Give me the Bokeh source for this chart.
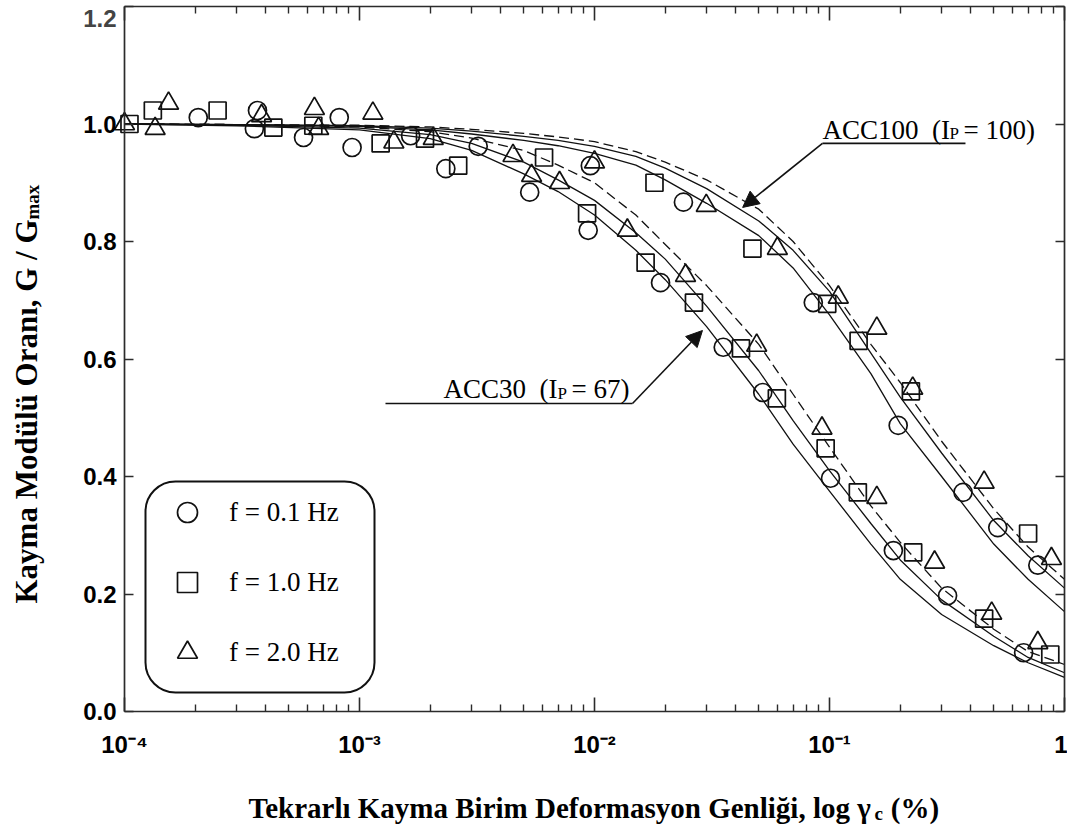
import math

from bokeh.embed import file_html
from bokeh.models import (Arrow, BoxAnnotation, CustomJSTickFormatter, FixedTicker,
                          Label, Legend, LegendItem, LinearAxis, LogAxis, NormalHead, Range1d)
from bokeh.plotting import figure
from bokeh.resources import INLINE

# ---------------------------------------------------------------- data
# cyclic shear strain amplitude (%) at which the fitted curves are tabulated
strain_grid = [1e-4, 3e-4, 1e-3, 2e-3, 3e-3, 5e-3, 7e-3, 1e-2, 1.5e-2, 2e-2, 3e-2,
               5e-2, 7e-2, 0.1, 0.15, 0.2, 0.3, 0.5, 0.7, 1.0]

# ACC30 (Ip = 67) fitted curves
acc30_fit_1 = [1.0, 0.997, 0.99, 0.975, 0.955, 0.915, 0.885, 0.845, 0.785, 0.735, 0.655,
               0.54, 0.455, 0.375, 0.285, 0.225, 0.165, 0.112, 0.083, 0.058]
acc30_fit_2 = [1.0, 0.998, 0.993, 0.982, 0.967, 0.935, 0.905, 0.87, 0.815, 0.77, 0.69,
               0.58, 0.495, 0.41, 0.32, 0.258, 0.19, 0.128, 0.092, 0.066]
acc30_fit_3 = [1.0, 0.999, 0.995, 0.987, 0.976, 0.955, 0.93, 0.9, 0.845, 0.795, 0.725,
               0.625, 0.54, 0.45, 0.35, 0.288, 0.21, 0.14, 0.102, 0.08]

# ACC100 (Ip = 100) fitted curves
acc100_fit_1 = [1.0, 0.999, 0.996, 0.99, 0.983, 0.972, 0.963, 0.95, 0.93, 0.905, 0.865,
                0.81, 0.755, 0.675, 0.575, 0.49, 0.4, 0.285, 0.225, 0.17]
acc100_fit_2 = [1.0, 0.999, 0.997, 0.993, 0.988, 0.979, 0.972, 0.962, 0.945, 0.925, 0.89,
                0.835, 0.785, 0.715, 0.61, 0.535, 0.44, 0.325, 0.265, 0.21]
acc100_fit_3 = [1.0, 0.999, 0.998, 0.995, 0.991, 0.984, 0.978, 0.97, 0.953, 0.935, 0.905,
                0.855, 0.8, 0.725, 0.625, 0.56, 0.46, 0.345, 0.28, 0.225]

# measured G/Gmax, f = 0.1 Hz
circle_strain = [2.06e-4, 3.57e-4, 3.68e-4, 5.78e-4, 8.2e-4, 9.3e-4, 1.65e-3, 2.33e-3,
                 3.2e-3, 5.3e-3, 9.4e-3, 9.6e-3, 0.0191, 0.0239, 0.0353, 0.052, 0.0853,
                 0.101, 0.187, 0.196, 0.318, 0.37, 0.52, 0.67, 0.77]
circle_ratio = [1.011, 0.992, 1.023, 0.977, 1.011, 0.96, 0.98, 0.924, 0.962, 0.884, 0.819,
                0.929, 0.73, 0.867, 0.62, 0.543, 0.696, 0.397, 0.274, 0.487, 0.197, 0.373,
                0.313, 0.1, 0.249]

# measured G/Gmax, f = 1.0 Hz
square_strain = [1.05e-4, 1.32e-4, 2.49e-4, 4.3e-4, 6.36e-4, 1.23e-3, 1.9e-3, 2.63e-3,
                 6.1e-3, 9.3e-3, 0.0165, 0.018, 0.0265, 0.042, 0.047, 0.0597, 0.0963,
                 0.0978, 0.132, 0.133, 0.222, 0.227, 0.455, 0.7, 0.87]
square_ratio = [1.0, 1.023, 1.023, 0.994, 0.997, 0.967, 0.975, 0.929, 0.943, 0.848, 0.764,
                0.9, 0.696, 0.618, 0.788, 0.533, 0.448, 0.694, 0.373, 0.631, 0.545, 0.271,
                0.158, 0.303, 0.097]

# measured G/Gmax, f = 2.0 Hz
triangle_strain = [1.0e-4, 1.35e-4, 1.54e-4, 3.83e-4, 6.43e-4, 6.7e-4, 1.14e-3, 1.4e-3,
                   2.06e-3, 4.5e-3, 5.4e-3, 7.1e-3, 0.01, 0.0138, 0.0244, 0.0299, 0.049,
                   0.06, 0.0929, 0.109, 0.159, 0.159, 0.226, 0.28, 0.455, 0.49, 0.77, 0.88]
triangle_ratio = [1.0, 0.992, 1.035, 1.014, 1.026, 0.992, 1.018, 0.969, 0.975, 0.946, 0.912,
                  0.9, 0.935, 0.819, 0.742, 0.861, 0.623, 0.788, 0.482, 0.705, 0.364, 0.652,
                  0.55, 0.254, 0.39, 0.167, 0.117, 0.26]

legend_labels = ["f = 0.1 Hz", "f = 1.0 Hz", "f = 2.0 Hz"]

x_tick_values = [1e-4, 1e-3, 1e-2, 1e-1, 1.0]
x_tick_labels = ["10\u207b\u2074", "10\u207b\u00b3", "10\u207b\u00b2", "10\u207b\u00b9", "1"]
x_minor_ticks = [m * 10.0 ** e for e in range(-4, 0) for m in range(2, 10)]

y_tick_values = [0.0, 0.2, 0.4, 0.6, 0.8, 1.0, 1.2]
y_tick_labels = ["0.0", "0.2", "0.4", "0.6", "0.8", "1.0", "1.2"]

# ---------------------------------------------------------------- styles & layout
INK = "#111111"
AXIS_INK = "#2b2b2b"
SERIF = "Liberation Serif"
SANS = "Liberation Sans"
TICK_FONT_SIZE = "24px"
NOTE_FONT_SIZE = "27px"
SUB_FONT_SIZE = "17px"

W, H = 1067, 829
# page pixels of the axes box
BOX_L, BOX_R, BOX_T, BOX_B = 124, 1064, 6, 711
X_LO, X_HI = 1e-4, 1.0
Y_LO, Y_HI = 0.0, 1.2

# the drawing area fills the page; the axes sit on the box edges
px_per_decade = (BOX_R - BOX_L) / (math.log10(X_HI) - math.log10(X_LO))
px_per_unit = (BOX_B - BOX_T) / (Y_HI - Y_LO)
x_start = 10 ** (math.log10(X_LO) - BOX_L / px_per_decade)
x_end = 10 ** (math.log10(X_HI) + (W - BOX_R) / px_per_decade)
y_start = Y_LO - (H - BOX_B) / px_per_unit
y_end = Y_HI + BOX_T / px_per_unit

# ---------------------------------------------------------------- figure
p = figure(width=W, height=H, x_axis_type="log",
           x_range=Range1d(x_start, x_end), y_range=Range1d(y_start, y_end),
           output_backend="svg", toolbar_location=None,
           min_border=0, min_border_left=0, min_border_right=0,
           min_border_top=0, min_border_bottom=0)
p.xgrid.visible = False
p.ygrid.visible = False
p.outline_line_color = None
p.background_fill_color = "white"
p.border_fill_color = "white"

x_formatter = CustomJSTickFormatter(args=dict(vals=x_tick_values, labels=x_tick_labels), code="""
    let best = 0;
    const lt = Math.log10(tick);
    for (let i = 0; i < vals.length; i++) {
        if (Math.abs(Math.log10(vals[i]) - lt) < Math.abs(Math.log10(vals[best]) - lt)) best = i;
    }
    return labels[best];
""")
# the topmost y label is placed separately so that it stays inside the page
y_formatter = CustomJSTickFormatter(args=dict(vals=y_tick_values, labels=y_tick_labels), code="""
    let best = 0;
    for (let i = 0; i < vals.length; i++) {
        if (Math.abs(vals[i] - tick) < Math.abs(vals[best] - tick)) best = i;
    }
    return best == vals.length - 1 ? "" : labels[best];
""")
blank_formatter = CustomJSTickFormatter(code="return '';")


def style_axis(ax, major_in, minor_in, show_labels):
    ax.axis_line_color = AXIS_INK
    ax.axis_line_width = 1.7
    ax.major_tick_line_color = AXIS_INK
    ax.major_tick_line_width = 1.6
    ax.minor_tick_line_color = AXIS_INK
    ax.minor_tick_line_width = 1.4
    ax.major_tick_in = major_in
    ax.major_tick_out = 0
    ax.minor_tick_in = minor_in
    ax.minor_tick_out = 0
    if show_labels:
        ax.major_label_text_font = SANS
        ax.major_label_text_font_style = "bold"
        ax.major_label_text_font_size = TICK_FONT_SIZE
        ax.major_label_text_color = "black"
    else:
        ax.formatter = blank_formatter
        ax.major_label_text_font_size = "1px"
        ax.major_label_standoff = 0


xb = p.xaxis[0]
xb.ticker = FixedTicker(ticks=x_tick_values, minor_ticks=x_minor_ticks)
xb.formatter = x_formatter
xb.fixed_location = Y_LO
xb.bounds = (X_LO, X_HI)
style_axis(xb, 14, 7, True)
xb.major_label_standoff = 19

yl = p.yaxis[0]
yl.ticker = FixedTicker(ticks=y_tick_values)
yl.formatter = y_formatter
yl.fixed_location = X_LO
yl.bounds = (Y_LO, Y_HI)
style_axis(yl, 9, 0, True)
yl.major_label_standoff = 8

xt = LogAxis(ticker=FixedTicker(ticks=x_tick_values, minor_ticks=x_minor_ticks),
             fixed_location=Y_HI, bounds=(X_LO, X_HI))
style_axis(xt, 14, 7, False)
p.add_layout(xt, "above")

yr = LinearAxis(ticker=FixedTicker(ticks=y_tick_values), fixed_location=X_HI, bounds=(Y_LO, Y_HI))
style_axis(yr, 9, 0, False)
p.add_layout(yr, "right")

# ---------------------------------------------------------------- curves
for fit in (acc30_fit_1, acc30_fit_2, acc100_fit_1, acc100_fit_2):
    p.line(strain_grid, fit, line_color=INK, line_width=1.3)
for fit in (acc30_fit_3, acc100_fit_3):
    p.line(strain_grid, fit, line_color=INK, line_width=1.3, line_dash="10 5")

# ---------------------------------------------------------------- measurements
marker_style = dict(fill_alpha=0, line_color=INK, line_width=1.7)
r_circle = p.scatter(circle_strain, circle_ratio, marker="circle", size=18, **marker_style)
r_square = p.scatter(square_strain, square_ratio, marker="square", size=17, **marker_style)
r_triangle = p.scatter(triangle_strain, triangle_ratio, marker="triangle", size=20, **marker_style)

# ---------------------------------------------------------------- legend (page pixels, y up)
legend = Legend(
    items=[LegendItem(label=legend_labels[0], renderers=[r_circle]),
           LegendItem(label=legend_labels[1], renderers=[r_square]),
           LegendItem(label=legend_labels[2], renderers=[r_triangle])],
    location=(162, H - 677), padding=0, spacing=20, margin=0,
    glyph_height=50, glyph_width=50, label_standoff=17, label_width=120, label_height=50,
    label_text_font=SERIF, label_text_font_size=NOTE_FONT_SIZE, label_text_color="black",
    border_line_color=None, background_fill_alpha=0,
)
p.add_layout(legend)

box_kw = dict(left=145, right=374, bottom=H - 692, top=H - 481,
              left_units="screen", right_units="screen", top_units="screen", bottom_units="screen",
              fill_color=None, line_color=INK, line_width=2, line_alpha=1)
if "border_radius" in BoxAnnotation.properties():
    box_kw["border_radius"] = 30
p.add_layout(BoxAnnotation(**box_kw))

# ---------------------------------------------------------------- curve callouts
# the text anchors are the baselines of the callout text, in data units
BASE_LIFT = 8 / px_per_unit
note = dict(text_font=SERIF, text_font_size=NOTE_FONT_SIZE, text_color="black",
            text_align="left", text_baseline="alphabetic")
sub = dict(text_font=SERIF, text_font_size=SUB_FONT_SIZE, text_color="black",
           text_align="left", text_baseline="alphabetic")
SUB_DROP = 4 / px_per_unit  # subscript baseline shift

# ACC100
acc100_text_x, acc100_text_y = 0.0933, 0.977 + BASE_LIFT
p.add_layout(Label(x=acc100_text_x, y=acc100_text_y, text="ACC100\u2002(I", **note))
p.add_layout(Label(x=acc100_text_x, y=acc100_text_y - SUB_DROP, x_offset=127, text="P", **sub))
p.add_layout(Label(x=acc100_text_x, y=acc100_text_y, x_offset=141, text="= 100)", **note))
p.line([0.0933, 0.379], [0.967, 0.967], line_color=INK, line_width=1.6)
p.add_layout(Arrow(x_start=0.0933, y_start=0.967, x_end=0.0427, y_end=0.858,
                   line_color=INK, line_width=1.6,
                   end=NormalHead(size=16, fill_color=INK, line_color=INK)))

# ACC30
acc30_text_x, acc30_text_y = 0.002277, 0.5345 + BASE_LIFT
p.add_layout(Label(x=acc30_text_x, y=acc30_text_y, text="ACC30\u2002(I", **note))
p.add_layout(Label(x=acc30_text_x, y=acc30_text_y - SUB_DROP, x_offset=114, text="P", **sub))
p.add_layout(Label(x=acc30_text_x, y=acc30_text_y, x_offset=128, text="= 67)", **note))
p.line([0.00129, 0.01451], [0.5243, 0.5243], line_color=INK, line_width=1.6)
p.add_layout(Arrow(x_start=0.01451, y_start=0.5243, x_end=0.0288, y_end=0.6485,
                   line_color=INK, line_width=1.6,
                   end=NormalHead(size=16, fill_color=INK, line_color=INK)))

# ---------------------------------------------------------------- axis titles & top y label
# screen positions are page pixels measured from the bottom-left corner
scr = dict(x_units="screen", y_units="screen")
p.add_layout(Label(x=116, y=H - 18, text=y_tick_labels[-1], text_font=SANS,
                   text_font_style="bold", text_font_size=TICK_FONT_SIZE,
                   text_align="right", text_baseline="middle", **scr))

title = dict(text_font=SERIF, text_font_style="bold", text_color="black",
             text_align="left", text_baseline="alphabetic")
p.add_layout(Label(x=248, y=H - 807, text="Tekrarlı Kayma Birim Deformasyon Genliği, log γ",
                   text_font_size="29px", **title, **scr))
p.add_layout(Label(x=874, y=H - 813, text="c", text_font_size="19px", **title, **scr))
p.add_layout(Label(x=883, y=H - 807, text="\u00a0(%)", text_font_size="29px", **title, **scr))

p.add_layout(Label(x=26, y=H - 603, angle=math.pi / 2, text="Kayma Modülü Oranı, G / G",
                   text_font_size="31px", **title, **scr))
p.add_layout(Label(x=32, y=H - 603 + 384, angle=math.pi / 2, text="max",
                   text_font_size="19px", **title, **scr))

open("out.html", "w").write(file_html(p, INLINE))
